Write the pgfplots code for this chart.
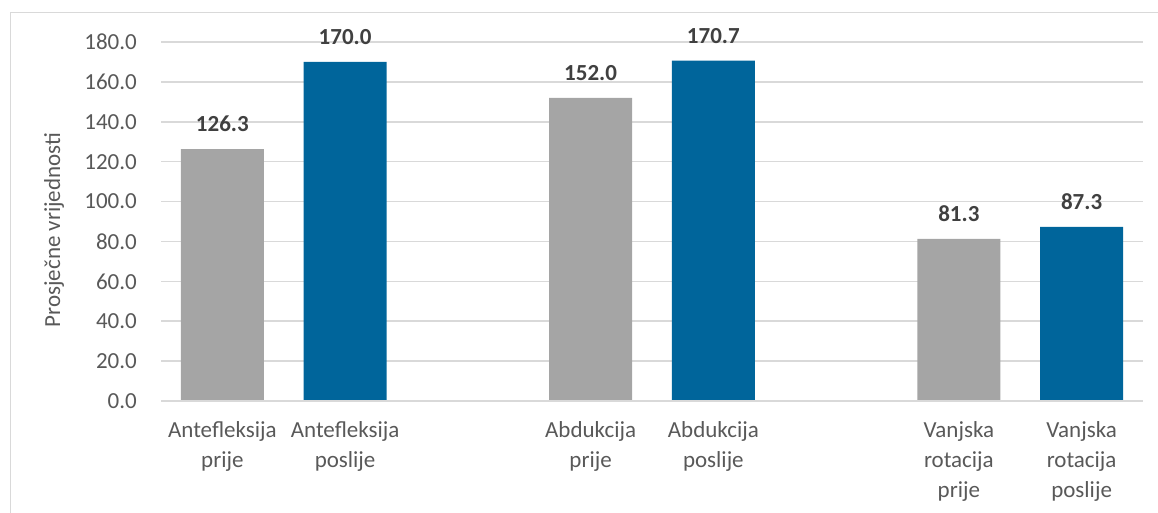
\documentclass[border=0pt]{standalone}
\usepackage{fontspec}
\setmainfont{Carlito}
\usepackage{pgfplots}
\pgfplotsset{compat=1.18}
\definecolor{barGray}{HTML}{A5A5A5}
\definecolor{barBlue}{HTML}{00659B}
\definecolor{gridGray}{HTML}{D9D9D9}
\definecolor{txtGray}{HTML}{595959}
\definecolor{lblGray}{HTML}{404040}

\begin{document}
\begin{tikzpicture}
\useasboundingbox (0bp,0bp) rectangle (1158bp,513bp);
\draw[gridGray, line width=1bp] (10bp,-5bp) -- (10bp,500bp) -- (1170bp,500bp);
\begin{axis}[
    at={(161bp,112bp)}, anchor=south west,
    scale only axis,
    width=982bp, height=359bp,
    xmin=0, xmax=8, ymin=0, ymax=180,
    ybar, bar width=83bp, bar shift=0pt,
    axis line style={draw=none},
    ymajorgrids, grid style={gridGray, line width=1.5bp},
    major tick length=0pt,
    ytick={0,20,...,180},
    xtick={0.5,1.5,3.5,4.5,6.5,7.5},
    xticklabels={Antefleksija\\prije, Antefleksija\\poslije,
                 Abdukcija\\prije, Abdukcija\\poslije,
                 Vanjska\\rotacija\\prije, Vanjska\\rotacija\\poslije},
    /pgf/number format/.cd, fixed, fixed zerofill, precision=1, assume math mode=true,
    /pgfplots/.cd,
    ticklabel style={font=\fontsize{23bp}{30bp}\selectfont, text=txtGray, inner sep=0pt},
    yticklabel style={anchor=east, xshift=-24bp},
    xticklabel style={align=center, anchor=north, yshift=-20bp},
    nodes near coords,
    every node near coord/.append style={font=\fontsize{23bp}{28bp}\selectfont\bfseries,
        text=lblGray, anchor=south, inner sep=0pt, yshift=17bp},
    clip=false,
]
\addplot[fill=barGray, draw=none] coordinates {(0.5,126.3) (3.5,152.0) (6.5,81.3)};
\addplot[fill=barBlue, draw=none] coordinates {(1.5,170.0) (4.5,170.7) (7.5,87.3)};
\draw[gridGray, line width=1.5bp] (axis cs:0,0) -- (axis cs:8,0);
\end{axis}
\node[rotate=90, text=txtGray, font=\fontsize{23bp}{28bp}\selectfont, inner sep=0pt]
    at (54bp,283bp) {Prosječne vrijednosti};
\end{tikzpicture}
\end{document}
